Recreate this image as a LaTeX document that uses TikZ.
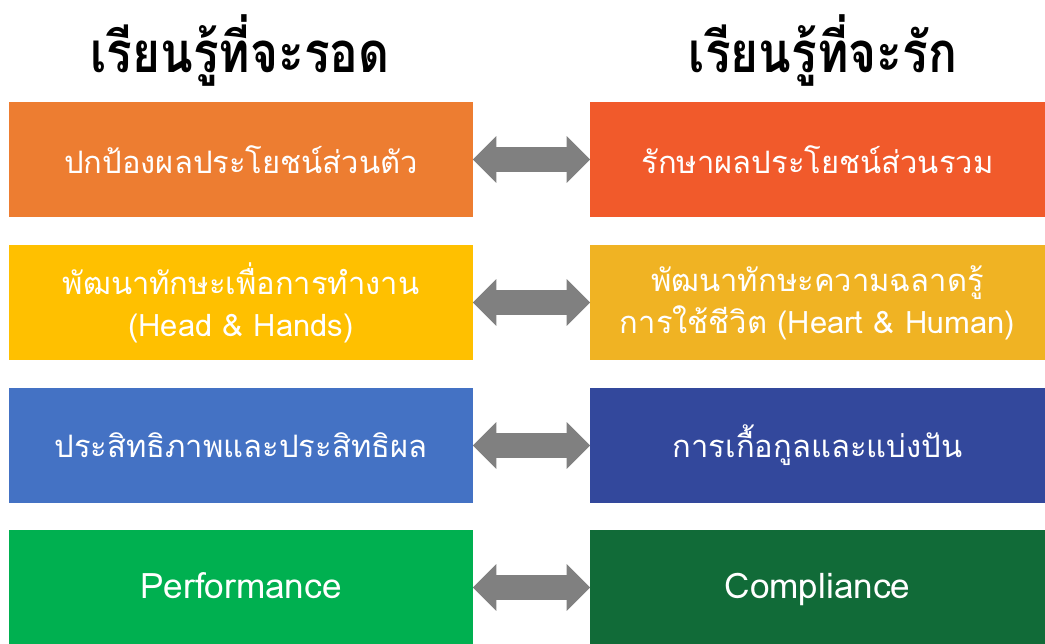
\documentclass[tikz,border=0pt]{standalone}
\usepackage{fontspec}
\newfontfamily\thaifont[Script=Thai]{Loma}
\newfontfamily\titlefont[Script=Thai, FakeStretch=0.85]{Loma}
\usetikzlibrary{shapes, shapes.arrows, positioning}
\definecolor{orangeL}{HTML}{ED7D31}
\definecolor{orangeR}{HTML}{F15A2B}
\definecolor{yellowL}{HTML}{FFC000}
\definecolor{yellowR}{HTML}{F0B323}
\definecolor{blueL}{HTML}{4472C4}
\definecolor{blueR}{HTML}{33489C}
\definecolor{greenL}{HTML}{00B050}
\definecolor{greenR}{HTML}{116B38}
\definecolor{arrowgray}{HTML}{808080}
\tikzset{
  leftbox/.style={minimum width=11.6cm, minimum height=2.875cm, inner sep=0pt,
    text=white, align=center, font=\thaifont\fontsize{22}{30}\selectfont},
  rightbox/.style={leftbox, minimum width=11.375cm},
  latin/.style={font=\thaifont\fontsize{25}{30}\selectfont,
    text height=18pt, text depth=2pt},
  title/.style={font=\titlefont\bfseries\fontsize{40}{46}\selectfont},
  swap/.style={double arrow, fill=arrowgray, minimum height=2.925cm,
    minimum width=1.15cm, inner sep=0.3cm, double arrow head extend=0.275cm}
}
\begin{document}
\begin{tikzpicture}[x=0.025cm, y=-0.025cm]
\useasboundingbox (0,0) rectangle (1045,644);
\node[title] (tl) at (240,51) {เรียนรู้ที่จะรอด};
\node[title] (tr) at (823,51) {เรียนรู้ที่จะรัก};

\node[leftbox, fill=orangeL] (l1) at (241,159.5) {ปกป้องผลประโยชน์ส่วนตัว};
\node[rightbox, fill=orangeR] (r1) at (817.5,159.5) {รักษาผลประโยชน์ส่วนรวม};
\node[swap] (a1) at (531.5,159.5) {};

\node[leftbox, fill=yellowL] (l2) at (241,302.5) {พัฒนาทักษะเพื่อการทำงาน\\(Head \& Hands)};
\node[rightbox, fill=yellowR] (r2) at (817.5,302.5) {พัฒนาทักษะความฉลาดรู้\\การใช้ชีวิต (Heart \& Human)};
\node[swap] (a2) at (531.5,302.5) {};

\node[leftbox, fill=blueL] (l3) at (241,445.5) {ประสิทธิภาพและประสิทธิผล};
\node[rightbox, fill=blueR] (r3) at (817.5,445.5) {การเกื้อกูลและแบ่งปัน};
\node[swap] (a3) at (531.5,445.5) {};

\node[leftbox, latin, fill=greenL] (l4) at (241,587.5) {Performance};
\node[rightbox, latin, fill=greenR] (r4) at (817.5,587.5) {Compliance};
\node[swap] (a4) at (531.5,587.5) {};
\end{tikzpicture}
\end{document}
